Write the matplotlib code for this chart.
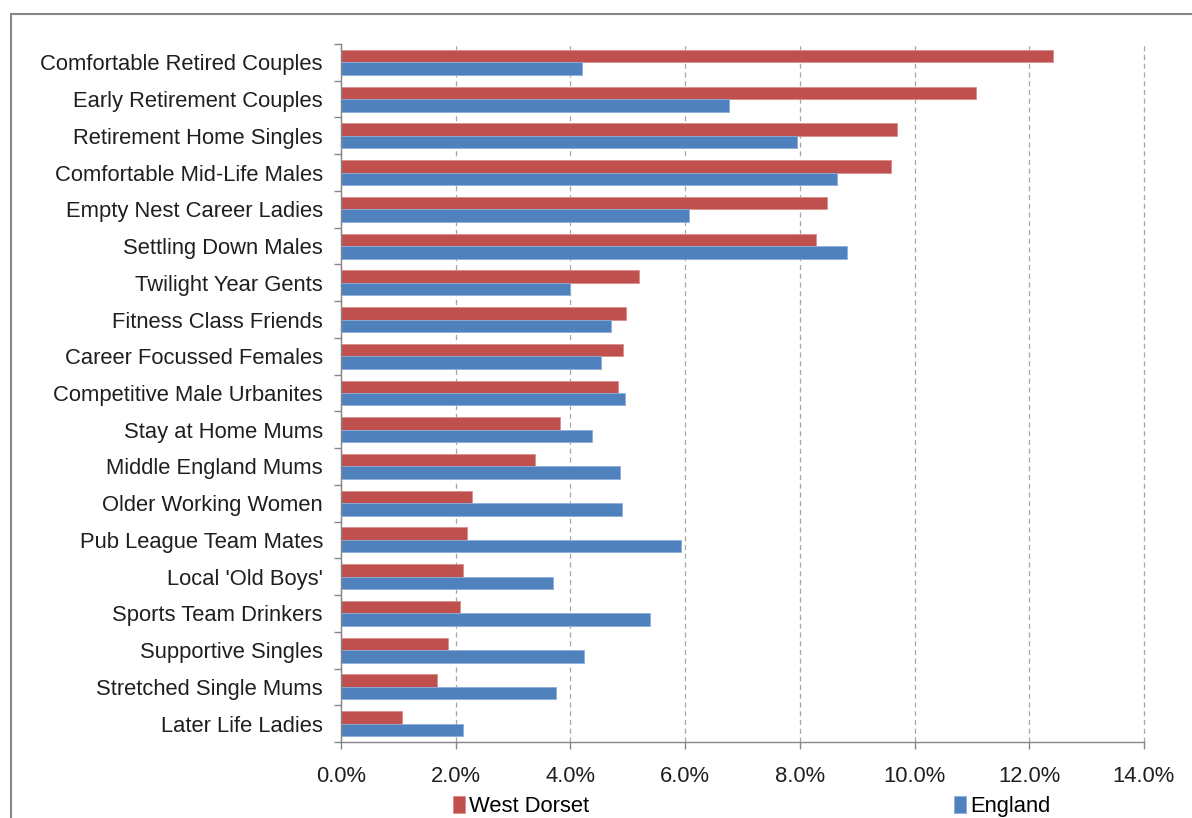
import matplotlib
matplotlib.use("Agg")
import matplotlib.pyplot as plt
from matplotlib.patches import Rectangle
from matplotlib.ticker import PercentFormatter, FixedLocator

# Mosaic segments, top to bottom
categories = [
    "Comfortable Retired Couples", "Early Retirement Couples", "Retirement Home Singles",
    "Comfortable Mid-Life Males", "Empty Nest Career Ladies", "Settling Down Males",
    "Twilight Year Gents", "Fitness Class Friends", "Career Focussed Females",
    "Competitive Male Urbanites", "Stay at Home Mums", "Middle England Mums",
    "Older Working Women", "Pub League Team Mates", "Local 'Old Boys'",
    "Sports Team Drinkers", "Supportive Singles", "Stretched Single Mums",
    "Later Life Ladies",
]
west_dorset = [12.42, 11.07, 9.69, 9.59, 8.48, 8.28, 5.20, 4.97, 4.92, 4.83,
               3.82, 3.39, 2.29, 2.20, 2.12, 2.08, 1.86, 1.67, 1.06]
england = [4.21, 6.77, 7.95, 8.65, 6.07, 8.83, 4.00, 4.71, 4.53, 4.95,
           4.38, 4.87, 4.90, 5.93, 3.69, 5.38, 4.24, 3.74, 2.12]
xticks = [0, 2, 4, 6, 8, 10, 12, 14]

RED = "#C0504D"
BLUE = "#4F81BD"
GREY = "#868686"
FS = 15.8

plt.rcParams["font.family"] = ["Liberation Sans", "DejaVu Sans"]

W, H = 1192, 818
fig = plt.figure(figsize=(W / 100, H / 100), dpi=100)
# chart area border, cut off at right and bottom as in the source
fig.patches.append(Rectangle((11 / W, -0.1), 1.2, 1 - 14 / H + 0.1, transform=fig.transFigure,
                             fill=False, edgecolor=GREY, linewidth=1.5))

ax = fig.add_axes([341 / W, 1 - 742 / H, (1144 - 341) / W, (742 - 44) / H])

h = 0.34
pos = list(range(len(categories)))
ax.barh([p - h / 2 for p in pos], west_dorset, height=h, color=RED,
        edgecolor="#d88f8d", linewidth=0.6, label="West Dorset")
ax.barh([p + h / 2 for p in pos], england, height=h, color=BLUE,
        edgecolor="#8eaedb", linewidth=0.6, label="England")

ax.set_ylim(len(categories) - 0.5, -0.5)
ax.set_xlim(0, 14)
ax.set_yticks(pos)
ax.set_yticklabels(categories)
ax.yaxis.set_minor_locator(FixedLocator([p - 0.5 for p in range(len(categories) + 1)]))
ax.tick_params(axis="y", which="major", length=0, pad=13, labelsize=FS, labelcolor="#1f1f1f")
ax.tick_params(axis="y", which="minor", length=5, width=1, color=GREY)

ax.set_xticks(xticks)
ax.xaxis.set_major_formatter(PercentFormatter(decimals=1))
ax.tick_params(axis="x", length=5, width=1, color=GREY, pad=12, labelsize=FS, labelcolor="#1f1f1f")

ax.grid(axis="x", color="#a6a6a6", linestyle=(0, (4, 3)), linewidth=0.9)
for gl in ax.get_xgridlines():
    gl.set_clip_on(False)
ax.set_axisbelow(True)
for s in ["top", "right"]:
    ax.spines[s].set_visible(False)
for s in ["left", "bottom"]:
    ax.spines[s].set_color(GREY)
    ax.spines[s].set_linewidth(1)

fig.legend(loc="upper left", bbox_to_anchor=(453 / W, 1 - 796 / H), ncol=2, frameon=False,
           fontsize=FS, handlelength=0.55, handleheight=0.8, handletextpad=0.2,
           columnspacing=16.6, borderpad=0, borderaxespad=0)

fig.savefig("out.png", dpi=100)
